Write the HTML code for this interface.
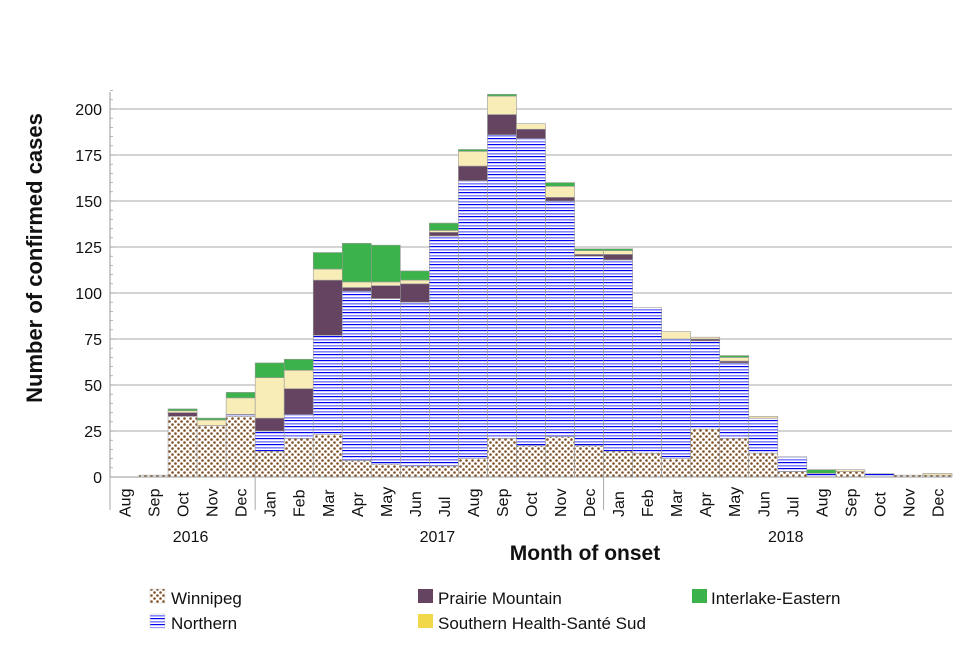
<!DOCTYPE html>
<html><head><meta charset="utf-8"><style>
body{margin:0;background:#fff;font-family:"Liberation Sans",sans-serif}
svg text{font-family:"Liberation Sans",sans-serif;fill:#111}
</style></head><body>
<svg id="chart" width="980" height="663" viewBox="0 0 980 663" xmlns="http://www.w3.org/2000/svg">
<defs>
<pattern id="pW" width="6" height="6" patternUnits="userSpaceOnUse"><rect width="6" height="6" fill="#fff"/><circle cx="1.5" cy="1.5" r="1.3" fill="#7f4f25"/><circle cx="4.5" cy="4.5" r="1.3" fill="#7f4f25"/></pattern>
<pattern id="pN" width="6" height="6" patternUnits="userSpaceOnUse"><rect width="6" height="6" fill="#fff"/><rect y="0" width="6" height="1.2" fill="#0000ee"/><rect y="3" width="6" height="1.6" fill="#8585ff"/></pattern>
</defs>
<g id="grid"></g>
<g id="bars"></g>
<g id="axes"></g>
<text transform="translate(42,258) rotate(-90)" text-anchor="middle" font-size="22" font-weight="bold">Number of confirmed cases</text>
<text x="585" y="560" text-anchor="middle" font-size="21" font-weight="bold">Month of onset</text>
<g font-size="17">
<rect x="150" y="589" width="15" height="14" fill="url(#pW)" stroke="#ccc" stroke-width="0.5"/>
<text x="171" y="604">Winnipeg</text>
<rect x="150" y="614" width="15" height="14" fill="url(#pN)" stroke="#ccc" stroke-width="0.5"/>
<text x="171" y="629">Northern</text>
<rect x="418" y="589" width="15" height="14" fill="#654462"/>
<text x="438" y="604">Prairie Mountain</text>
<rect x="418" y="614" width="15" height="14" fill="#f0d84a"/>
<text x="438" y="629">Southern Health-Santé Sud</text>
<rect x="692" y="589" width="15" height="14" fill="#3bb24a"/>
<text x="711" y="604">Interlake-Eastern</text>
</g>
</svg>
<script>
const months=["Aug","Sep","Oct","Nov","Dec","Jan","Feb","Mar","Apr","May","Jun","Jul","Aug","Sep","Oct","Nov","Dec","Jan","Feb","Mar","Apr","May","Jun","Jul","Aug","Sep","Oct","Nov","Dec"];
const years=["2016","2017","2018"];
const winnipeg=[0,1,33,28,33,14,21,23,9,7,6,6,10,21,17,22,17,14,13,10,26,21,13,3,0,3,0,1,1];
const northern=[0,0,0,0,1,11,13,54,92,90,89,125,151,165,167,128,103,104,79,65,48,41,19,8,2,0,2,0,0];
const prairie=[0,0,2,0,0,7,14,30,2,7,10,2,8,11,5,2,1,3,0,0,1,1,0,0,0,0,0,0,0];
const southern=[0,0,1,3,9,22,10,6,3,2,2,1,8,10,3,6,2,2,0,4,1,2,1,0,0,1,0,0,1];
const interlake=[0,0,1,1,3,8,6,9,21,20,5,4,1,1,0,2,1,1,0,0,0,1,0,0,2,0,0,0,0];
const yTicks=[0,25,50,75,100,125,150,175,200];
const NS="http://www.w3.org/2000/svg";
const X0=110,X1=952,Y0=477,YS=1.84;
const bw=(X1-X0)/months.length;
const xs=i=>X0+i*bw;
const ys=v=>Y0-v*YS;
function mk(tag,attrs,parent){const e=document.createElementNS(NS,tag);for(const k in attrs)e.setAttribute(k,attrs[k]);parent.appendChild(e);return e;}
const grid=document.getElementById('grid'),bars=document.getElementById('bars'),axes=document.getElementById('axes');
yTicks.forEach(t=>{
  if(t>0){const g=mk('line',{x1:X0,x2:X1,y1:ys(t),y2:ys(t),stroke:'#a8a8a8','stroke-width':1},grid);
  
  }
  const l=mk('text',{x:102,y:ys(t)+6,'text-anchor':'end','font-size':16},axes);l.textContent=t;
  
  
});
for(let v=0;v<=210;v+=5){mk('line',{x1:X0,x2:X0+(v%25?3:5),y1:ys(v),y2:ys(v),stroke:'#999','stroke-width':0.7},axes);}
const series=[[winnipeg,'url(#pW)','winnipeg'],[northern,'url(#pN)','northern'],[prairie,'#654462','prairie'],[southern,'#f9edb7','southern'],[interlake,'#3bb24a','interlake']];
months.forEach((m,i)=>{
  let base=0;
  series.forEach(([arr,fill,nm])=>{
    const v=arr[i];if(v<=0)return;
    const r=mk('rect',{x:xs(i),y:ys(base+v),width:bw,height:v*YS,fill:fill,stroke:'#999','stroke-width':0.6},bars);
    
    
    base+=v;
  });
  const cx=xs(i)+bw/2;
  const t=mk('text',{transform:`translate(${cx+6},517) rotate(-90)`,'font-size':16},axes);t.textContent=m;
  
  
});
mk('line',{x1:X0,x2:X0,y1:92,y2:Y0,stroke:'#999','stroke-width':1},axes);
mk('line',{x1:X0,x2:X1,y1:Y0,y2:Y0,stroke:'#999','stroke-width':1},axes);
[0,5,17].forEach(i=>{mk('line',{x1:xs(i),x2:xs(i),y1:Y0,y2:510,stroke:'#aaa','stroke-width':1},axes);});
const yPos=[[0,5],[5,17],[17,29]];
years.forEach((y,k)=>{
  const cx=(xs(yPos[k][0])+xs(yPos[k][1]))/2+8;
  const t=mk('text',{x:cx,y:542,'text-anchor':'middle','font-size':16},axes);t.textContent=y;
  
  
});
</script>
</body></html>
